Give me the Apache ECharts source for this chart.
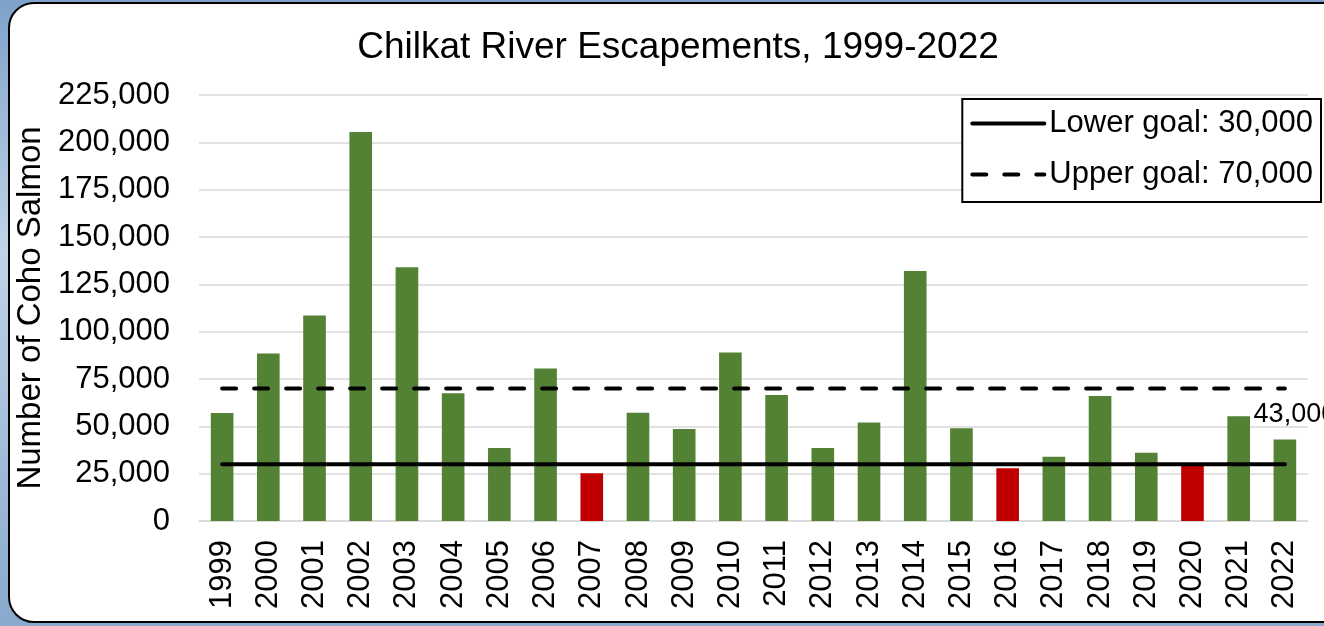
<!DOCTYPE html>
<html>
<head>
<meta charset="utf-8">
<title>Chilkat River Escapements</title>
<script src="https://cdn.jsdelivr.net/npm/echarts@6/dist/echarts.min.js"></script>
<style>
    html,body{margin:0;padding:0;}
    #chart{width:1324px;height:626px;}
</style>
</head>
<body>
<div id="chart"></div>
<script>
// 年份
var years = ['1999','2000','2001','2002','2003','2004','2005','2006','2007','2008','2009','2010',
             '2011','2012','2013','2014','2015','2016','2017','2018','2019','2020','2021','2022'];
// 逃逸数（从图上读出来的估计值）
var escapement = [57000, 88500, 108500, 205500, 134000, 67500, 38500, 80500, 25200, 57200, 48600, 89000,
                  66500, 38500, 52000, 132000, 49000, 27800, 34000, 66000, 36000, 29300, 55300, 43000];
var lowerGoal = 30000;
var upperGoal = 70000;
var yTicks = [0, 25000, 50000, 75000, 100000, 125000, 150000, 175000, 200000, 225000];

var FONT = 'Liberation Sans, Arial, sans-serif';

function fmt(v){
    return String(v).replace(/\B(?=(\d{3})+(?!\d))/g, ',');
}
function fill(v){
    var arr = [];
    for(var i=0;i<years.length;i++){
        arr.push(v);
    }
    return arr;
}

function makeChart(chartid) {
    var container = echarts.init(document.getElementById(chartid));

    // 只给最后一年加标签
    var barData = [];
    for(var i=0;i<escapement.length;i++){
        if (i == escapement.length - 1){
            barData.push({
                value: escapement[i],
                label: {
                    show: true,
                    position: 'top',
                    offset: [10, -7],
                    fontSize: 27,
                    fontFamily: FONT,
                    color: '#000',
                    formatter: function(p){ return fmt(p.value); }
                }
            });
        }else{
            barData.push(escapement[i]);
        }
    }

    option = {
        animation: false,
        backgroundColor: {
            type: 'linear', x: 0, y: 0, x2: 0, y2: 1,
            colorStops: [
                {offset: 0, color: '#7ea2c9'},
                {offset: 0.4, color: '#c0d3e8'},
                {offset: 1, color: '#88a9ce'}
            ]
        },
        graphic: [
            {
                type: 'rect',
                z: -10,
                shape: {x: 9, y: 3, width: 1340, height: 619, r: 25},
                style: {fill: '#fff', stroke: '#000', lineWidth: 2}
            }
        ],
        title: {
            text: 'Chilkat River Escapements, 1999-2022',
            left: 673,
            textAlign: 'center',
            top: 24,
            textStyle: {
                fontFamily: FONT,
                fontSize: 37,
                fontWeight: 'normal',
                color: '#000'
            }
        },
        legend: {
            orient: 'vertical',
            right: 3,
            top: 99,
            data: ['Lower goal: 30,000', 'Upper goal: 70,000'],
            borderColor: '#000',
            borderWidth: 2,
            borderRadius: 0,
            backgroundColor: '#fff',
            padding: [9, 8, 12, 8],
            itemGap: 20,
            itemWidth: 72,
            itemHeight: 14,
            itemStyle: {opacity: 0},
            lineStyle: {width: 4, cap: 'round'},
            textStyle: {
                fontFamily: FONT,
                fontSize: 31,
                color: '#000'
            }
        },
        grid: {
            left: 199,
            right: 16,
            top: 95,
            bottom: 105,
            containLabel: false
        },
        xAxis: [
            {
                type: 'category',
                data: years,
                axisTick: {show: false},
                axisLine: {lineStyle: {color: '#d9d9d9', width: 1.5}},
                axisLabel: {
                    rotate: 90,
                    margin: 19,
                    fontFamily: FONT,
                    fontSize: 31,
                    color: '#000'
                }
            }
        ],
        yAxis: [
            {
                type: 'value',
                name: 'Number of Coho Salmon',
                nameLocation: 'middle',
                nameRotate: 90,
                nameGap: 152,
                nameTextStyle: {
                    fontFamily: FONT,
                    fontSize: 33,
                    color: '#000'
                },
                min: yTicks[0],
                max: yTicks[yTicks.length - 1],
                interval: yTicks[1] - yTicks[0],
                axisLine: {show: false},
                axisTick: {show: false},
                splitLine: {lineStyle: {color: '#d9d9d9', width: 1.5}},
                axisLabel: {
                    margin: 29,
                    fontFamily: FONT,
                    fontSize: 31,
                    color: '#000',
                    formatter: function(v){ return fmt(v); }
                }
            }
        ],
        series: [
            {
                name: 'Escapement',
                type: 'bar',
                barWidth: '49%',
                data: barData,
                itemStyle: {
                    color: function(p){
                        // 低于下限的标红
                        return p.value < lowerGoal ? '#c00000' : '#548235';
                    }
                }
            },
            {
                name: 'Lower goal: 30,000',
                type: 'line',
                symbol: 'none',
                data: fill(lowerGoal),
                z: 5,
                lineStyle: {color: '#000', width: 4, type: 'solid', cap: 'round'},
                itemStyle: {color: '#000'}
            },
            {
                name: 'Upper goal: 70,000',
                type: 'line',
                symbol: 'none',
                data: fill(upperGoal),
                z: 5,
                lineStyle: {color: '#000', width: 4, type: [14, 18], cap: 'round'},
                itemStyle: {color: '#000'}
            }
        ]
    };

    container.setOption(option);
}

makeChart('chart');
</script>
</body>
</html>
